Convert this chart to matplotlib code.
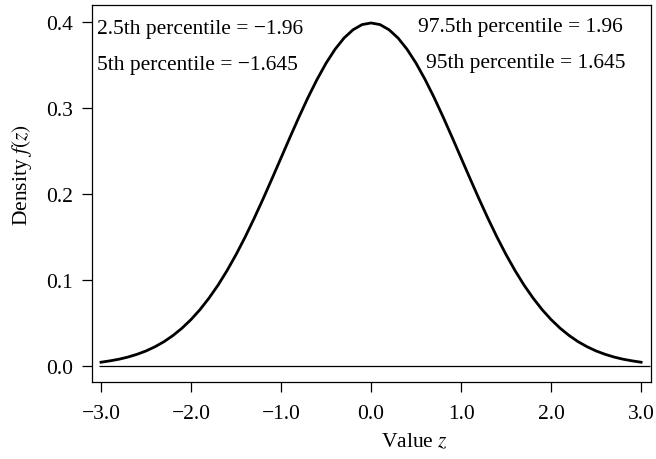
import matplotlib
matplotlib.use('Agg')
import matplotlib.pyplot as plt

# values
z_vals = [-3.0, -2.9, -2.8, -2.7, -2.6, -2.5, -2.4, -2.3, -2.2, -2.1,
          -2.0, -1.9, -1.8, -1.7, -1.6, -1.5, -1.4, -1.3, -1.2, -1.1,
          -1.0, -0.9, -0.8, -0.7, -0.6, -0.5, -0.4, -0.3, -0.2, -0.1,
          0.0, 0.1, 0.2, 0.3, 0.4, 0.5, 0.6, 0.7, 0.8, 0.9,
          1.0, 1.1, 1.2, 1.3, 1.4, 1.5, 1.6, 1.7, 1.8, 1.9,
          2.0, 2.1, 2.2, 2.3, 2.4, 2.5, 2.6, 2.7, 2.8, 2.9, 3.0]
density = [0.0044, 0.0060, 0.0079, 0.0104, 0.0136, 0.0175, 0.0224, 0.0283, 0.0355, 0.0440,
           0.0540, 0.0656, 0.0790, 0.0940, 0.1109, 0.1295, 0.1497, 0.1714, 0.1942, 0.2179,
           0.2420, 0.2661, 0.2897, 0.3123, 0.3332, 0.3521, 0.3683, 0.3814, 0.3910, 0.3970,
           0.3989, 0.3970, 0.3910, 0.3814, 0.3683, 0.3521, 0.3332, 0.3123, 0.2897, 0.2661,
           0.2420, 0.2179, 0.1942, 0.1714, 0.1497, 0.1295, 0.1109, 0.0940, 0.0790, 0.0656,
           0.0540, 0.0440, 0.0355, 0.0283, 0.0224, 0.0175, 0.0136, 0.0104, 0.0079, 0.0060, 0.0044]

x_ticks = [-3.0, -2.0, -1.0, 0.0, 1.0, 2.0, 3.0]
x_ticklabels = ['\u22123.0', '\u22122.0', '\u22121.0', '0.0', '1.0', '2.0', '3.0']
y_ticks = [0.0, 0.1, 0.2, 0.3, 0.4]
y_ticklabels = ['0.0', '0.1', '0.2', '0.3', '0.4']

left_notes = ['2.5th percentile = \u22121.96', '5th percentile = \u22121.645']
right_notes = ['97.5th percentile = 1.96', '95th percentile = 1.645']

plt.rcParams['font.family'] = ['Liberation Serif', 'DejaVu Serif']
plt.rcParams['mathtext.fontset'] = 'stix'
FS = 15.5

fig = plt.figure(figsize=(6.56, 4.6), dpi=100)
ax = fig.add_axes([92/656, 1 - 383/460, 559/656, 377/460])

ax.plot(z_vals, density, color='black', lw=2.0, solid_joinstyle='round')
ax.hlines(0, -3.02, 3.1, color='black', lw=0.9)

ax.set_xlim(-3.1, 3.11)
ax.set_ylim(-0.0186, 0.4198)

ax.set_xticks(x_ticks)
ax.set_xticklabels(x_ticklabels)
ax.set_yticks(y_ticks)
ax.set_yticklabels(y_ticklabels)
ax.tick_params(direction='out', length=7.5, width=0.9, labelsize=FS)
ax.tick_params(axis='x', pad=8)
ax.tick_params(axis='y', pad=6)
for s in ax.spines.values():
    s.set_linewidth(0.9)

# annotations
ax.text(-3.044, 0.392, left_notes[0], fontsize=FS, ha='left', va='center')
ax.text(-3.044, 0.351, left_notes[1], fontsize=FS, ha='left', va='center')
ax.text(2.80, 0.395, right_notes[0], fontsize=FS, ha='right', va='center')
ax.text(2.822, 0.3535, right_notes[1], fontsize=FS, ha='right', va='center')

fig.text(414/656, 1 - 443/460, r'Value $z$', fontsize=FS, ha='center', va='center')
fig.text(22/656, 1 - 175/460, r'Density $f(z)$', fontsize=FS, ha='center', va='center',
         rotation=90)

fig.savefig('out.png', dpi=100)
